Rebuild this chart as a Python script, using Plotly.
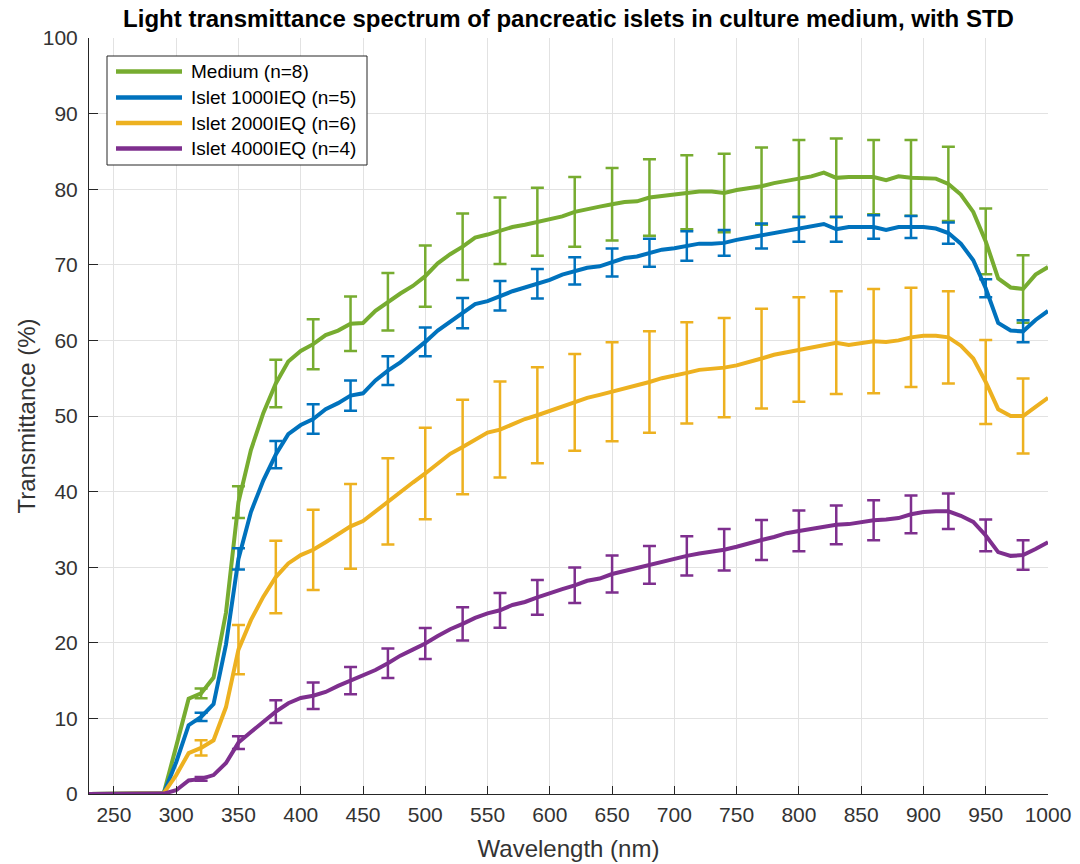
import plotly.graph_objects as go

# Wavelength grid (nm), 10 nm steps
wavelength = list(range(230, 1001, 10))

# Mean transmittance (%) per group
medium = [0, 0, 0, 0, 0, 0,
          0.1, 6.3, 12.6, 13.3, 15.4, 24.0, 38.6, 45.5, 50.4, 54.3,
          57.2, 58.6, 59.5, 60.7, 61.3, 62.2, 62.3, 63.9, 65.1, 66.2,
          67.2, 68.5, 70.2, 71.4, 72.4, 73.6, 74.0, 74.5, 75.0, 75.3,
          75.7, 76.0, 76.4, 77.0, 77.4, 77.7, 78.0, 78.3, 78.4, 78.9,
          79.1, 79.3, 79.6, 79.7, 79.7, 79.5, 79.9, 80.1, 80.4, 80.8,
          81.1, 81.4, 81.7, 82.2, 81.5, 81.6, 81.6, 81.6, 81.2, 81.7,
          81.5, 81.5, 81.4, 80.7, 79.3, 77.0, 73.1, 68.2, 67.0, 66.8,
          68.7, 69.7]
islet_1000 = [0, 0, 0, 0, 0, 0,
              0.1, 4.2, 9.1, 10.2, 11.9, 19.8, 31.1, 37.3, 41.5, 44.9,
              47.6, 48.8, 49.6, 50.9, 51.7, 52.7, 53.0, 54.7, 56.0, 57.1,
              58.4, 59.8, 61.3, 62.5, 63.6, 64.8, 65.2, 65.9, 66.5, 67.0,
              67.5, 68.0, 68.7, 69.2, 69.6, 69.8, 70.3, 70.9, 71.1, 71.6,
              72.0, 72.2, 72.5, 72.8, 72.8, 72.9, 73.3, 73.6, 73.8, 74.1,
              74.4, 74.7, 75.0, 75.4, 74.7, 75.0, 75.0, 75.0, 74.6, 75.0,
              75.0, 75.0, 74.8, 74.2, 72.8, 70.6, 66.9, 62.3, 61.3, 61.2,
              62.7, 63.9]
islet_2000 = [0, 0, 0, 0, 0, 0,
              0.1, 2.5, 5.4, 6.1, 7.1, 11.5, 19.1, 23.0, 26.1, 28.7,
              30.5, 31.6, 32.3, 33.3, 34.4, 35.4, 36.1, 37.4, 38.7, 39.9,
              41.2, 42.4, 43.7, 45.0, 45.9, 46.9, 47.8, 48.2, 48.9, 49.6,
              50.1, 50.7, 51.2, 51.8, 52.4, 52.8, 53.2, 53.7, 54.0, 54.5,
              55.0, 55.3, 55.7, 56.1, 56.2, 56.4, 56.7, 57.1, 57.6, 58.1,
              58.4, 58.8, 59.1, 59.3, 59.7, 59.4, 59.7, 59.9, 59.8, 60.0,
              60.4, 60.6, 60.6, 60.4, 59.3, 57.6, 54.5, 50.9, 50.0, 50.0,
              51.2, 52.4]
islet_4000 = [0, 0, 0, 0, 0, 0,
              0.05, 0.5, 1.8, 2.0, 2.5, 4.1, 6.8, 8.2, 9.6, 10.9,
              12.0, 12.7, 13.0, 13.5, 14.3, 15.0, 15.6, 16.4, 17.3, 18.3,
              19.1, 19.9, 20.9, 21.8, 22.5, 23.3, 23.9, 24.3, 25.0, 25.4,
              26.0, 26.6, 27.1, 27.6, 28.2, 28.5, 29.1, 29.5, 29.9, 30.3,
              30.7, 31.2, 31.5, 31.8, 32.0, 32.3, 32.7, 33.2, 33.6, 34.0,
              34.5, 34.8, 35.1, 35.4, 35.6, 35.7, 36.0, 36.2, 36.3, 36.5,
              37.0, 37.3, 37.4, 37.4, 36.8, 36.0, 34.2, 32.0, 31.5, 31.6,
              32.4, 33.3]

# Standard deviation, reported every 30 nm from 320 to 980 nm
std_wavelength = list(range(320, 981, 30))
medium_std = [0.65, 2.1, 3.15, 3.3, 3.6, 3.8, 4.05, 4.4, 4.4, 4.5, 4.6, 4.8,
              5.05, 4.9, 5.2, 5.1, 5.1, 5.2, 4.9, 5.0, 4.9, 4.35, 4.45]
islet_1000_std = [0.55, 1.4, 1.8, 1.95, 2.0, 1.9, 1.9, 2.0, 1.95, 1.95, 1.8,
                  1.85, 1.85, 1.95, 1.7, 1.65, 1.65, 1.65, 1.55, 1.45, 1.4,
                  1.2, 1.45]
islet_2000_std = [1.0, 3.25, 4.8, 5.3, 5.6, 5.7, 6.05, 6.25, 6.35, 6.35, 6.4,
                  6.55, 6.7, 6.7, 6.55, 6.6, 6.9, 6.8, 6.9, 6.55, 6.1, 5.55,
                  4.95]
islet_4000_std = [0.25, 0.85, 1.5, 1.75, 1.8, 1.95, 2.05, 2.2, 2.3, 2.3, 2.35,
                  2.45, 2.5, 2.6, 2.75, 2.65, 2.7, 2.55, 2.65, 2.5, 2.35, 2.1,
                  1.95]

labels = ["Medium (n=8)", "Islet 1000IEQ (n=5)",
          "Islet 2000IEQ (n=6)", "Islet 4000IEQ (n=4)"]
colors = ["#77AC30", "#0072BD", "#EDB120", "#7E2F8E"]

series = [medium, islet_1000, islet_2000, islet_4000]
stds = [medium_std, islet_1000_std, islet_2000_std, islet_4000_std]

FONT = "Liberation Sans, Arial, Helvetica, sans-serif"
AXCOL = "#262626"
TICKCOL = "#333333"
GRIDCOL = "#e2e2e2"

fig = go.Figure()

for name, y, sd, col in zip(labels, series, stds, colors):
    fig.add_trace(go.Scatter(
        x=wavelength, y=y, mode="lines", name=name,
        line=dict(color=col, width=4), showlegend=False,
    ))
    # error bars on the sampled wavelengths, centred on the mean curve
    idx = [wavelength.index(w) for w in std_wavelength]
    fig.add_trace(go.Scatter(
        x=std_wavelength, y=[y[i] for i in idx], mode="markers",
        marker=dict(size=1, color="rgba(0,0,0,0)"),
        error_y=dict(type="data", array=sd, visible=True, color=col,
                     thickness=2.5, width=6.5),
        showlegend=False, hoverinfo="skip",
    ))

# Plot area in pixels (figure is 1080 x 864)
L, R, T, B = 89, 1048, 38, 794


def px(xp):
    return (xp - L) / (R - L)


def py(yp):
    return (B - yp) / (B - T)


# Legend drawn as a boxed key at the upper left
shapes = [dict(type="rect", xref="paper", yref="paper",
               x0=px(107), x1=px(367), y0=py(165), y1=py(56),
               line=dict(color=AXCOL, width=1), fillcolor="white",
               layer="above")]
annotations = []
row_y = [71.5, 97.5, 123, 148.5]
for name, col, ry in zip(labels, colors, row_y):
    shapes.append(dict(type="line", xref="paper", yref="paper",
                       x0=px(116), x1=px(182), y0=py(ry), y1=py(ry),
                       line=dict(color=col, width=4.5), layer="above"))
    annotations.append(dict(xref="paper", yref="paper", x=px(189), y=py(ry),
                            text=name, showarrow=False, xanchor="left",
                            yanchor="middle",
                            font=dict(family=FONT, size=19, color="black")))

fig.update_layout(
    width=1080, height=864,
    margin=dict(l=L, r=1080 - R, t=T, b=864 - B),
    paper_bgcolor="white", plot_bgcolor="white",
    title=dict(text="<b>Light transmittance spectrum of pancreatic islets in culture medium, with STD</b>",
               x=0.5, xref="paper", xanchor="center", y=1 - 19 / 864,
               yanchor="middle", font=dict(family=FONT, size=24, color="black")),
    shapes=shapes, annotations=annotations,
    font=dict(family=FONT, color=AXCOL),
)

fig.update_xaxes(
    range=[230, 1000], tickmode="array", tickvals=list(range(250, 1001, 50)),
    showgrid=True, gridcolor=GRIDCOL, gridwidth=1,
    showline=True, linecolor=AXCOL, linewidth=1, mirror=False,
    ticks="inside", ticklen=8, tickcolor=AXCOL, tickwidth=1,
    ticklabelstandoff=2, automargin=False,
    tickfont=dict(family=FONT, size=21, color=TICKCOL),
    title=dict(text="Wavelength (nm)", standoff=14,
               font=dict(family=FONT, size=24, color=TICKCOL)),
    zeroline=False,
)
fig.update_yaxes(
    range=[0, 100], tickmode="array", tickvals=list(range(0, 101, 10)),
    showgrid=True, gridcolor=GRIDCOL, gridwidth=1,
    showline=True, linecolor=AXCOL, linewidth=1, mirror=False,
    ticks="inside", ticklen=9, tickcolor=AXCOL, tickwidth=1,
    ticklabelstandoff=6, automargin=False,
    tickfont=dict(family=FONT, size=21, color=TICKCOL),
    title=dict(text="Transmittance (%)", standoff=0,
               font=dict(family=FONT, size=24, color=TICKCOL)),
    zeroline=False,
)

fig.write_html("out.html")
